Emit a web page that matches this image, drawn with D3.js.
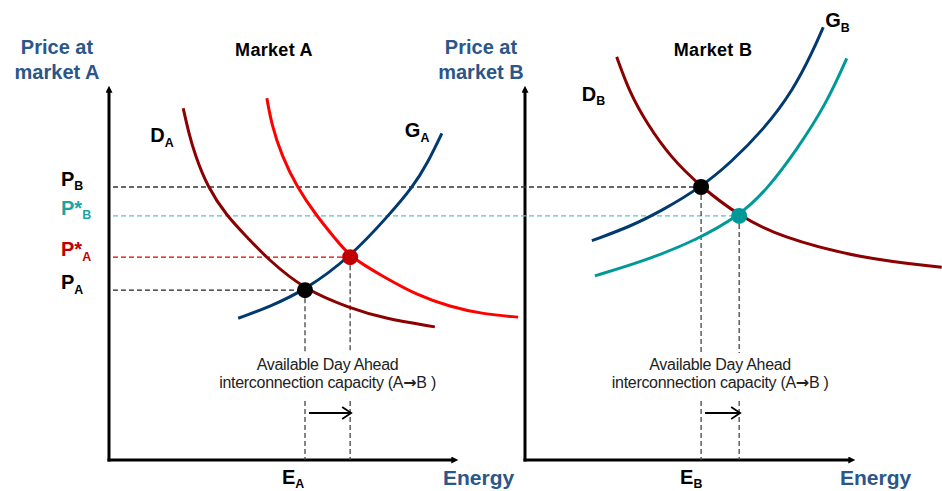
<!DOCTYPE html>
<html>
<head>
<meta charset="utf-8">
<script src="https://cdn.jsdelivr.net/npm/d3@7"></script>
<style>
  body { margin: 0; background: #fff; }
  text { font-family: "Liberation Sans", Arial, sans-serif; }
</style>
</head>
<body>
<svg id="chart"></svg>
<script>
// Price levels on the shared price axis (0-100)
const priceMain = ['P', 'P*', 'P*', 'P'];
const priceSub = ['B', 'B', 'A', 'A'];
const priceValues = [72.8, 65.1, 54.1, 45.3];

// Equilibrium energy quantities: before / after coupling
const energyA = [56.0, 68.9];
const energyB = [53.2, 64.7];

// Curves as [energy, price]
const demandA = [[21.2, 93.8], [22.7, 87.5], [24.6, 81.3], [28.1, 72.9], [33.6, 65.1], [39.8, 59.1], [45.1, 53.8],
                 [56.0, 45.3], [68.9, 40.5], [78.4, 37.8], [93.1, 35.5]];
const demandAExport = [[45.1, 96.5], [46.5, 89.3], [49.3, 81.3], [53.6, 72.9], [59.3, 65.1], [64.6, 59.1], [68.9, 54.1],
                       [78.4, 48.9], [87.9, 44.0], [97.4, 40.9], [106.9, 38.9], [116.9, 38.1]];
const supplyA = [[36.9, 37.8], [46.0, 40.9], [56.0, 45.3], [68.9, 54.1], [79.8, 65.1], [86.9, 72.9], [91.2, 79.5], [95.1, 87.1]];
const demandB = [[27.7, 107.5], [31.7, 97.8], [36.8, 89.8], [43.8, 80.9], [53.2, 72.8], [64.7, 65.1], [77.0, 59.5],
                 [101.2, 53.8], [125.9, 51.4]];
const supplyB = [[20.2, 58.5], [31.7, 62.2], [41.8, 66.7], [53.2, 72.8], [61.9, 79.1], [72.0, 88.0], [81.1, 98.7],
                 [87.1, 109.3], [90.1, 115.4]];
const supplyBImport = [[21.1, 49.1], [36.8, 53.3], [51.9, 58.7], [64.7, 65.1], [73.0, 72.0], [82.1, 82.7], [91.1, 95.1], [97.2, 107.1]];

const width = 942, height = 491;
const blue = '#2b5689';

const svg = d3.select('#chart')
    .attr('width', width)
    .attr('height', height);

const y = d3.scaleLinear().domain([0, 100]).range([460, 85]);
const xA = d3.scaleLinear().domain([0, 100]).range([109, 459]);
const xB = d3.scaleLinear().domain([0, 100]).range([525, 856]);

// Markers
const defs = svg.append('defs');
defs.append('marker')
    .attr('id', 'axis-head')
    .attr('markerUnits', 'userSpaceOnUse')
    .attr('viewBox', '0 0 10 10')
    .attr('refX', 1).attr('refY', 5)
    .attr('markerWidth', 8).attr('markerHeight', 7)
    .attr('orient', 'auto')
    .append('path')
    .attr('d', 'M0,0 L10,5 L0,10 Z')
    .attr('fill', '#000');
defs.append('marker')
    .attr('id', 'open-head')
    .attr('markerUnits', 'userSpaceOnUse')
    .attr('refX', 10).attr('refY', 6)
    .attr('markerWidth', 12).attr('markerHeight', 12)
    .attr('orient', 'auto')
    .style('overflow', 'visible')
    .append('path')
    .attr('d', 'M1,0 L10,6 L1,12')
    .attr('fill', 'none')
    .attr('stroke', '#000')
    .attr('stroke-width', 1.8);

function drawAxes(x) {
    svg.append('line')
        .attr('x1', x(0)).attr('x2', x(0))
        .attr('y1', y(0) + 1.5).attr('y2', y(100) + 7)
        .attr('stroke', '#000').attr('stroke-width', 3)
        .attr('marker-end', 'url(#axis-head)');
    svg.append('line')
        .attr('x1', x(0) - 1.5).attr('x2', x(100) - 7)
        .attr('y1', y(0)).attr('y2', y(0))
        .attr('stroke', '#000').attr('stroke-width', 3)
        .attr('marker-end', 'url(#axis-head)');
}
drawAxes(xA);
drawAxes(xB);

// Horizontal price guides
const guideColors = ['#333', '#5cc3c3', '#e00000', '#222'];
const guideEnds = [xB(energyB[0]), xB(energyB[1]), xA(energyA[1]), xA(energyA[0])];
priceValues.forEach((p, i) => {
    svg.append('line')
        .attr('x1', xA(0) + 4).attr('x2', guideEnds[i])
        .attr('y1', y(p)).attr('y2', y(p))
        .attr('stroke', guideColors[i])
        .attr('stroke-width', 1.3)
        .attr('stroke-dasharray', '5,3');
});

// Vertical energy guides, broken around the annotation text
const gapTop = 353, gapBottom = 401;
[[xA, energyA[0], priceValues[3]], [xA, energyA[1], priceValues[2]],
 [xB, energyB[0], priceValues[0]], [xB, energyB[1], priceValues[1]]].forEach(([x, e, p]) => {
    [[y(p), gapTop], [gapBottom, y(0)]].forEach(([a, b]) => {
        svg.append('line')
            .attr('x1', x(e)).attr('x2', x(e))
            .attr('y1', a).attr('y2', b)
            .attr('stroke', '#444')
            .attr('stroke-width', 1.3)
            .attr('stroke-dasharray', '5,3');
    });
});

// Curves (smoothed through the read points)
function curve(data, x, color) {
    const line = d3.line()
        .x(d => x(d[0]))
        .y(d => y(d[1]))
        .curve(d3.curveBasis);
    svg.append('path')
        .datum(data)
        .attr('d', line)
        .attr('fill', 'none')
        .attr('stroke', color)
        .attr('stroke-width', 3);
}
curve(demandA, xA, '#8b0000');
curve(demandAExport, xA, '#ff0000');
curve(supplyA, xA, '#003a70');
curve(demandB, xB, '#8b0000');
curve(supplyB, xB, '#003a70');
curve(supplyBImport, xB, '#009999');

// Equilibrium points
[[xA, energyA[0], priceValues[3], '#000'], [xA, energyA[1], priceValues[2], '#c00000'],
 [xB, energyB[0], priceValues[0], '#000'], [xB, energyB[1], priceValues[1], '#009999']].forEach(([x, e, p, c]) => {
    svg.append('circle')
        .attr('cx', x(e)).attr('cy', y(p))
        .attr('r', 8)
        .attr('fill', c);
});

// Capacity arrows and notes
[[xA, energyA], [xB, energyB]].forEach(([x, e]) => {
    svg.append('line')
        .attr('x1', x(e[0]) + 4).attr('x2', x(e[1]) + 1)
        .attr('y1', 413).attr('y2', 413)
        .attr('stroke', '#000').attr('stroke-width', 1.8)
        .attr('marker-end', 'url(#open-head)');
    const cx = (x(e[0]) + x(e[1])) / 2;
    svg.append('text')
        .attr('x', cx).attr('y', 370)
        .attr('text-anchor', 'middle')
        .style('font-size', '16px')
        .style('letter-spacing', '-0.3px')
        .style('fill', '#222')
        .text('Available Day Ahead');
    const t = svg.append('text')
        .attr('x', cx).attr('y', 388)
        .attr('text-anchor', 'middle')
        .style('font-size', '16px')
        .style('letter-spacing', '-0.3px')
        .style('fill', '#222');
    t.append('tspan').text('interconnection capacity (A');
    t.append('tspan')
        .style('font-family', '"DejaVu Sans", sans-serif')
        .style('font-weight', 'bold')
        .text('\u2192');
    t.append('tspan').text('B )');
});

// Labels with subscripts
function subLabel(x0, y0, main, sub, size, color) {
    const t = svg.append('text')
        .attr('x', x0).attr('y', y0)
        .style('font-size', size + 'px')
        .style('font-weight', 'bold')
        .style('fill', color);
    t.append('tspan').text(main);
    t.append('tspan')
        .attr('dy', size * 0.22)
        .style('font-size', (size * 0.62) + 'px')
        .text(sub);
}

const priceColors = ['#000', '#1aa5a5', '#c00000', '#000'];
priceValues.forEach((p, i) => {
    subLabel(61, y(p) - 1, priceMain[i], priceSub[i], 20, priceColors[i]);
});

subLabel(xA(demandA[0][0]) - 33, y(demandA[0][1]) + 34, 'D', 'A', 20, '#000');
const gA = supplyA[supplyA.length - 1];
subLabel(xA(gA[0]) - 37, y(gA[1]) + 4, 'G', 'A', 20, '#000');
subLabel(xB(demandB[0][0]) - 35, y(demandB[0][1]) + 44, 'D', 'B', 20, '#000');
const gB = supplyB[supplyB.length - 1];
subLabel(xB(gB[0]) + 2, y(gB[1]), 'G', 'B', 20, '#000');

subLabel(xA(energyA[0]) - 23, 484, 'E', 'A', 20, '#000');
subLabel(xB(energyB[0]) - 21, 484, 'E', 'B', 20, '#000');

// Axis titles
[[57, 'market A'], [481, 'market B']].forEach(([cx, second]) => {
    svg.append('text')
        .attr('x', cx).attr('y', 54)
        .attr('text-anchor', 'middle')
        .style('font-size', '20px').style('font-weight', 'bold')
        .style('fill', blue)
        .text('Price at');
    svg.append('text')
        .attr('x', cx).attr('y', 79)
        .attr('text-anchor', 'middle')
        .style('font-size', '20px').style('font-weight', 'bold')
        .style('fill', blue)
        .text(second);
});
[443, 840].forEach(left => {
    svg.append('text')
        .attr('x', left).attr('y', 485)
        .style('font-size', '21px').style('font-weight', 'bold')
        .style('fill', blue)
        .text('Energy');
});

svg.append('text')
    .attr('x', 274).attr('y', 56)
    .attr('text-anchor', 'middle')
    .style('font-size', '18px').style('font-weight', 'bold')
    .style('letter-spacing', '0.3px')
    .text('Market A');
svg.append('text')
    .attr('x', 713).attr('y', 56)
    .attr('text-anchor', 'middle')
    .style('font-size', '18px').style('font-weight', 'bold')
    .style('letter-spacing', '0.3px')
    .text('Market B');
</script>
</body>
</html>
